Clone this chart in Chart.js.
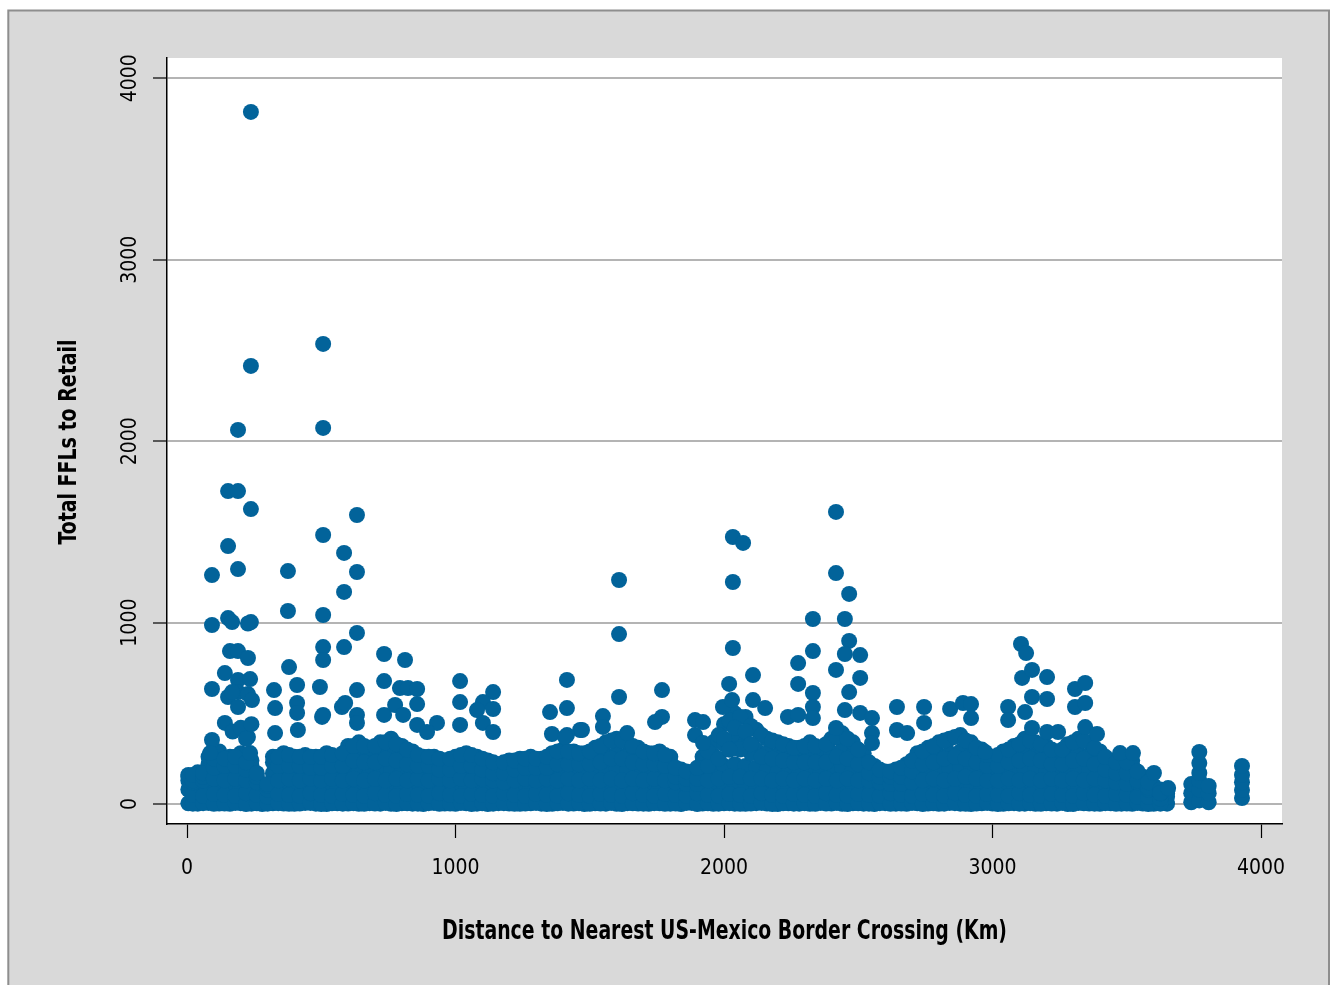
<!doctype html>
<html>
<head>
<meta charset="utf-8" />
<title>Total FFLs to Retail vs Distance to Border</title>
<style>
  html, body { margin: 0; padding: 0; background: #fff; }
  #wrap { width: 1333px; height: 985px; }
</style>
<script src="https://cdn.jsdelivr.net/npm/chart.js"></script>
</head>
<body>
<div id="wrap"><canvas id="chart" width="1333" height="985"></canvas></div>
<script>
// tick labels and axis titles
const xTicks = [0, 1000, 2000, 3000, 4000];
const yTicks = [0, 1000, 2000, 3000, 4000];
const xTitle = 'Distance to Nearest US-Mexico Border Crossing (Km)';
const yTitle = 'Total FFLs to Retail';

// dense cloud near the floor, read as columns across the distance range
const bandKm = [
  5,40,80,120,160,200,240,280,320,360,
  400,440,480,520,560,600,640,680,720,760,
  800,840,880,920,960,1000,1040,1080,1120,1160,
  1200,1240,1280,1320,1360,1400,1440,1480,1520,1560,
  1600,1640,1680,1720,1760,1800,1840,1880,1920,1960,
  2000,2040,2080,2120,2160,2200,2240,2280,2320,2360,
  2400,2440,2480,2520,2560,2600,2640,2680,2720,2760,
  2800,2840,2880,2920,2960,3000,3040,3080,3120,3160,
  3200,3240,3280,3320,3360,3400,3440,3480,3520,3560,
  3600,3650];
const bandLow = [
  4,2,6,3,1,5,2,0,4,3,
  1,6,2,0,4,3,1,5,2,1,
  4,2,0,6,3,1,4,2,0,5,
  3,1,4,2,1,6,3,0,4,2,
  1,5,3,1,4,2,0,6,3,1,
  4,2,1,5,3,0,4,2,1,6,
  3,1,4,2,0,5,2,1,4,3,
  1,6,2,0,4,3,1,5,2,1,
  4,2,0,6,3,1,4,2,1,3,
  1,2];
const bandMid = [
  80,90,100,90,100,90,80,40,90,100,
  90,100,90,100,90,100,90,100,90,100,
  90,100,90,100,90,100,90,100,90,80,
  90,100,90,100,90,100,90,100,90,100,
  90,100,90,100,90,100,80,80,100,100,
  110,110,110,100,100,90,100,90,100,90,
  100,110,100,90,90,80,80,90,90,100,
  100,100,110,100,90,90,100,100,100,100,
  90,100,100,100,100,90,90,80,90,70,
  60,40];
const bandHigh = [
  130,150,170,170,180,170,160,70,170,180,
  170,170,160,180,170,180,180,170,180,190,
  180,170,170,180,160,170,180,170,160,150,
  160,170,170,170,180,180,170,180,180,190,
  190,190,180,170,180,170,140,130,170,190,
  210,220,210,200,190,180,180,180,190,180,
  190,200,190,170,160,150,150,160,170,180,
  190,190,200,190,180,170,180,180,190,190,
  180,170,180,190,190,170,160,150,160,120,
  90,60];
const bandUpper = [
  150,170,220,240,230,240,210,90,230,240,
  230,230,220,240,230,260,270,250,270,280,
  260,240,230,230,210,230,240,230,210,190,
  210,220,230,220,240,250,240,240,250,270,
  280,270,250,240,240,230,170,160,230,270,
  330,350,340,300,280,270,260,250,270,250,
  280,300,270,240,190,170,170,200,240,250,
  270,280,290,270,250,230,250,260,280,270,
  260,240,260,280,270,240,210,190,210,140,
  100,70];
const bandTop = [
  160,175,260,290,260,280,240,90,260,280,
  260,270,260,280,260,320,340,310,340,360,
  320,290,260,260,240,260,280,260,240,220,
  240,250,260,250,280,300,290,280,310,340,
  360,340,310,280,290,260,190,170,260,340,
  440,500,480,410,360,340,320,310,340,310,
  360,390,340,280,210,180,190,220,280,310,
  340,360,380,340,300,260,290,320,360,340,
  320,290,330,360,340,290,240,220,240,150,
  100,70];

// the same cloud, columns lying between the ones above
const fillKm = [
  22,60,100,140,180,220,260,300,340,380,
  420,460,500,540,580,620,660,700,740,780,
  820,860,900,940,980,1020,1060,1100,1140,1180,
  1220,1260,1300,1340,1380,1420,1460,1500,1540,1580,
  1620,1660,1700,1740,1780,1820,1860,1900,1940,1980,
  2020,2060,2100,2140,2180,2220,2260,2300,2340,2380,
  2420,2460,2500,2540,2580,2620,2660,2700,2740,2780,
  2820,2860,2900,2940,2980,3020,3060,3100,3140,3180,
  3220,3260,3300,3340,3380,3420,3460,3500,3540,3580,
  3625];
const fillFloor = [
  2,5,1,3,6,0,4,2,5,1,
  3,6,0,4,2,5,1,3,6,0,
  4,2,5,1,3,6,0,4,2,5,
  1,3,6,0,4,2,5,1,3,6,
  0,4,2,5,1,3,6,0,4,2,
  5,1,3,6,0,4,2,5,1,3,
  6,0,4,2,5,1,3,6,0,4,
  2,5,1,3,6,0,4,2,5,1,
  3,6,0,4,2,5,1,3,6,0,
  2];
const fillLow = [
  50,45,55,50,45,60,50,40,55,50,
  45,60,50,45,55,50,45,60,50,45,
  55,50,45,60,50,45,55,50,45,60,
  50,45,55,50,45,60,50,45,55,50,
  45,60,50,45,55,50,45,60,50,45,
  55,50,45,60,50,45,55,50,45,60,
  50,45,55,50,45,60,50,45,55,50,
  45,60,50,45,55,50,45,60,50,45,
  55,50,45,60,50,45,55,50,40,40,
  30];
const fillMid = [
  120,130,140,130,140,130,120,80,130,140,
  130,140,130,140,130,140,130,140,130,140,
  130,140,130,140,130,140,130,140,130,120,
  130,140,130,140,130,140,130,140,130,140,
  130,140,130,140,130,120,110,110,130,140,
  150,150,140,140,130,140,130,140,130,140,
  130,140,130,130,120,110,110,120,130,140,
  130,140,150,140,130,130,140,130,140,130,
  140,130,140,130,140,130,120,110,120,80,
  60];
const fillHigh = [
  130,150,200,210,210,190,150,100,210,210,
  210,200,200,210,210,240,230,230,250,240,
  220,210,210,190,190,210,210,190,170,170,
  190,200,200,200,220,220,220,220,230,250,
  250,230,220,220,210,150,140,140,210,250,
  300,310,280,260,250,240,230,230,230,230,
  260,250,220,170,150,150,150,180,220,230,
  250,260,250,230,210,210,230,240,250,240,
  220,220,240,250,220,190,170,170,130,90,
  60];
const fillTop = [
  160,170,250,250,260,230,170,110,260,270,
  260,260,260,270,280,320,320,320,340,330,
  300,270,260,250,250,270,270,250,230,230,
  240,250,250,260,290,290,280,290,320,350,
  350,320,290,280,270,200,180,200,290,380,
  460,480,430,380,350,330,310,320,320,330,
  370,360,300,230,190,180,200,240,290,320,
  350,370,350,310,270,270,300,330,350,330,
  300,300,340,350,310,260,230,230,180,120,
  80];

// individually readable points above the cloud, plus the far-east stations
const pointKm = [238,507,238,190,507,153,190,238,507,633,153,585,93,190,376,633,585,376,153,168,507,238,227,93,633,507,507,585,160,190,227,380,734,812,141,410,495,734,793,823,857,93,633,190,235,190,227,153,190,242,168,324,410,328,857,577,589,503,507,633,633,734,775,805,857,931,894,1017,1017,1017,1140,1102,1140,1080,1102,1140,1415,1415,1352,1464,1359,1415,1408,328,410,413,93,141,227,86,235,1549,1549,1471,1609,1609,1609,1639,1769,1769,1743,1892,1922,1892,1922,2033,2071,2033,2033,2019,2108,2108,2153,1996,2030,2238,2276,2276,2276,2331,2331,2331,2331,2331,2417,2417,2466,2450,2466,2450,2507,2417,2507,2466,2450,2507,2551,2551,2551,2417,2644,2644,2745,2745,2842,2890,2920,2920,2682,2972,3106,3125,3110,3147,3203,3147,3203,3121,3058,3058,3307,3345,3307,3345,3203,3244,3345,3389,3147,3475,3523,3601,3624,3654,2000,2040,2080,2060,2020,2100,170,200,220,240,3740,3740,3740,3770,3770,3770,3770,3770,3770,3805,3805,3805,3929,3929,3929,3929,3929];
const pointFfl = [3815,2536,2415,2062,2073,1725,1725,1626,1483,1593,1422,1384,1262,1295,1284,1279,1169,1064,1025,1003,1042,1003,995,987,943,865,794,865,843,843,805,755,827,794,722,656,645,678,639,639,634,634,628,684,689,617,606,590,535,573,617,628,557,529,551,535,557,480,491,491,447,491,546,491,436,447,397,678,562,436,617,562,524,518,447,397,684,529,507,408,386,380,369,391,502,408,353,447,369,281,281,485,425,408,1235,937,590,391,628,480,452,463,452,380,336,1472,1439,1224,860,662,711,573,529,535,573,480,491,777,662,1020,843,612,535,474,1610,1273,1158,1020,899,827,821,739,695,617,518,502,474,391,336,419,535,408,535,447,524,557,551,474,391,287,882,832,695,739,700,590,579,507,535,463,634,667,535,557,397,397,424,386,419,281,281,171,61,88,360,420,400,300,300,330,400,420,360,440,10,60,110,20,80,130,171,226,287,10,60,100,33,77,120,160,210];

const points = [];
bandKm.forEach((km, i) => {
  [bandLow, bandMid, bandHigh, bandUpper, bandTop].forEach(row => points.push({ x: km, y: row[i] }));
});
fillKm.forEach((km, i) => {
  [fillFloor, fillLow, fillMid, fillHigh, fillTop].forEach(row => points.push({ x: km, y: row[i] }));
});
pointKm.forEach((km, i) => points.push({ x: km, y: pointFfl[i] }));

const FONT = "'Liberation Sans Narrow', 'DejaVu Sans Condensed', 'Liberation Sans', sans-serif";

const framePlugin = {
  id: 'frame',
  beforeDraw(chart) {
    const { ctx, chartArea: a, width, height } = chart;
    ctx.save();
    ctx.fillStyle = '#ffffff';
    ctx.fillRect(0, 0, width, height);
    ctx.fillStyle = '#d9d9d9';
    ctx.fillRect(8, 10, 1321, height);
    ctx.strokeStyle = '#8e8e8e';
    ctx.lineWidth = 2;
    ctx.strokeRect(8.3, 10.5, 1320.7, height + 20);
    ctx.fillStyle = '#ffffff';
    ctx.fillRect(a.left, a.top, a.right - a.left, a.bottom - a.top);
    ctx.restore();
  },
  // condensed bold axis titles, squeezed to the width they take in the original
  afterDraw(chart) {
    const { ctx, chartArea: a } = chart;
    ctx.save();
    ctx.fillStyle = '#000';
    ctx.textAlign = 'center';
    ctx.textBaseline = 'middle';
    ctx.font = 'bold 27px ' + FONT;
    let sx = 565 / ctx.measureText(xTitle).width;
    ctx.translate((a.left + a.right) / 2, 932);
    ctx.scale(sx, 1);
    ctx.fillText(xTitle, 0, 0);
    ctx.restore();

    ctx.save();
    ctx.fillStyle = '#000';
    ctx.textAlign = 'center';
    ctx.textBaseline = 'middle';
    ctx.font = 'bold 25px ' + FONT;
    sx = 205 / ctx.measureText(yTitle).width;
    ctx.translate(69, (a.top + a.bottom) / 2 + 1);
    ctx.rotate(-Math.PI / 2);
    ctx.scale(sx, 1);
    ctx.fillText(yTitle, 0, 0);
    ctx.restore();
  }
};

new Chart(document.getElementById('chart'), {
  type: 'scatter',
  data: {
    datasets: [{
      data: points,
      pointRadius: 8,
      pointBorderWidth: 0,
      pointBackgroundColor: '#02639a',
      pointBorderColor: '#02639a'
    }]
  },
  options: {
    responsive: false,
    animation: false,
    events: [],
    layout: { padding: { left: 0, top: 58, right: 51, bottom: 0 } },
    plugins: { legend: { display: false }, tooltip: { enabled: false } },
    scales: {
      x: {
        type: 'linear',
        min: -74.5,
        max: 4078,
        afterFit: s => { s.height = 161; },
        afterBuildTicks: s => { s.ticks = xTicks.map(v => ({ value: v })); },
        grid: { drawOnChartArea: false, drawTicks: true, tickLength: 14, tickColor: '#000', tickWidth: 1.2 },
        border: { display: true, color: '#000', width: 1.5 },
        ticks: { color: '#000', padding: 18, font: { family: FONT, size: 21 }, callback: v => String(v) },
        title: { display: false }
      },
      y: {
        type: 'linear',
        min: -110,
        max: 4112,
        afterFit: s => { s.width = 167; },
        afterBuildTicks: s => { s.ticks = yTicks.map(v => ({ value: v })); },
        grid: { color: '#b4b4b4', lineWidth: 2, drawTicks: true, tickLength: 14, tickColor: '#000', tickWidth: 1.2 },
        border: { display: true, color: '#000', width: 1.5 },
        ticks: { color: '#000', padding: -2, minRotation: 90, maxRotation: 90, crossAlign: 'center', font: { family: FONT, size: 21 }, callback: v => String(v) },
        title: { display: false }
      }
    }
  },
  plugins: [framePlugin]
});
</script>
</body>
</html>
